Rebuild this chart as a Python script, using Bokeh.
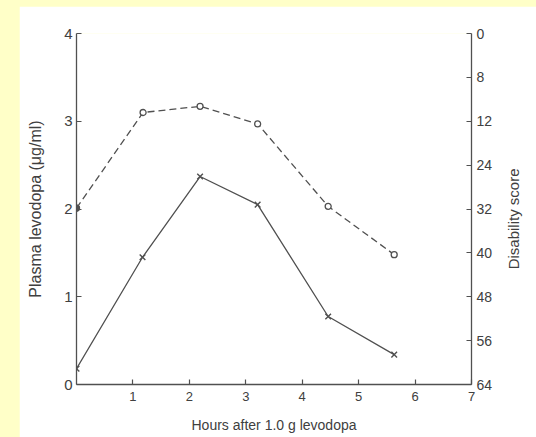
import math
from bokeh.plotting import figure
from bokeh.models import Range1d, LinearAxis, FixedTicker
from bokeh.embed import file_html
from bokeh.resources import INLINE

# Data
hours_dis = [0.0, 1.18, 2.19, 3.21, 4.46, 5.63]
disability = [2.01, 3.10, 3.17, 2.97, 2.03, 1.48]      # plotted on the left (0-4) scale
hours_lev = [0.0, 1.17, 2.19, 3.21, 4.46, 5.63]
levodopa = [0.18, 1.45, 2.37, 2.05, 0.775, 0.34]

x_ticks = [1, 2, 3, 4, 5, 6, 7]
left_ticks = [0, 1, 2, 3, 4]
right_ticks = [0, 8, 16, 24, 32, 40, 48, 56, 64]
right_labels = ["0", "8", "12", "24", "32", "40", "48", "56", "64"]
right_title_text = "Disability score"

FONT = "Liberation Sans"
TXT = "#404040"
LINE = "#505050"

p = figure(width=517, height=431, output_backend="svg", toolbar_location=None,
           x_range=Range1d(0, 7), y_range=Range1d(0, 4),
           x_axis_location=None, y_axis_location=None,
           min_border_left=57, min_border_right=65, min_border_top=27, min_border_bottom=53)
p.margin = (6, 0, 0, 19)
p.outline_line_color = None
p.background_fill_color = "white"
p.border_fill_color = "white"
p.xgrid.visible = False
p.ygrid.visible = False
p.extra_y_ranges = {"dis": Range1d(start=64, end=0)}

def style(ax, size, lsize):
    ax.axis_line_color = LINE
    ax.axis_line_width = 1.3
    ax.major_tick_line_color = LINE
    ax.major_tick_line_width = 1.2
    ax.major_tick_in = 5
    ax.major_tick_out = 0
    ax.minor_tick_line_color = None
    ax.major_label_text_font = FONT
    ax.major_label_text_font_size = size
    ax.major_label_text_color = TXT
    ax.axis_label_text_font = FONT
    ax.axis_label_text_font_size = lsize
    ax.axis_label_text_font_style = "normal"
    ax.axis_label_text_color = TXT

xa = LinearAxis(ticker=FixedTicker(ticks=x_ticks), axis_label="Hours after 1.0 g levodopa")
style(xa, "13px", "14px")
xa.major_label_standoff = 7
xa.axis_label_standoff = 13
p.add_layout(xa, "below")

ya = LinearAxis(ticker=FixedTicker(ticks=left_ticks), axis_label="Plasma levodopa (μg/ml)")
style(ya, "15px", "16px")
ya.major_label_standoff = 4
ya.axis_label_standoff = 17
p.add_layout(ya, "left")

ra = LinearAxis(y_range_name="dis", ticker=FixedTicker(ticks=right_ticks))
style(ra, "14px", "15px")
ra.major_label_overrides = {t: l for t, l in zip(right_ticks, right_labels)}
ra.major_label_standoff = 5
p.add_layout(ra, "right")

# right-hand axis title, written bottom-to-top as in the reference
title_anchor = 43
ta = LinearAxis(y_range_name="dis", ticker=FixedTicker(ticks=[title_anchor]))
style(ta, "15px", "15px")
ta.axis_line_color = None
ta.major_tick_line_color = None
ta.major_tick_in = 0
ta.major_label_overrides = {title_anchor: right_title_text}
ta.major_label_orientation = math.pi / 2
ta.major_label_standoff = 18
p.add_layout(ta, "right")

p.line(hours_dis, disability, line_color=LINE, line_width=1.3, line_dash="7 4")
p.scatter(hours_dis, disability, marker="circle", size=6, fill_color="white",
          line_color=LINE, line_width=1.3)
p.scatter(hours_dis[:1], disability[:1], marker="circle", size=6, fill_color=LINE,
          line_color=LINE, line_width=1.3)

p.line(hours_lev, levodopa, line_color=LINE, line_width=1.3)
p.scatter(hours_lev, levodopa, marker="x", size=8, line_color=LINE, line_width=1.4)

html = file_html(p, INLINE)
html = html.replace("</head>", "<style>html, body { background-color: #FFFFC8 !important; }</style></head>", 1)
open("out.html", "w").write(html)
